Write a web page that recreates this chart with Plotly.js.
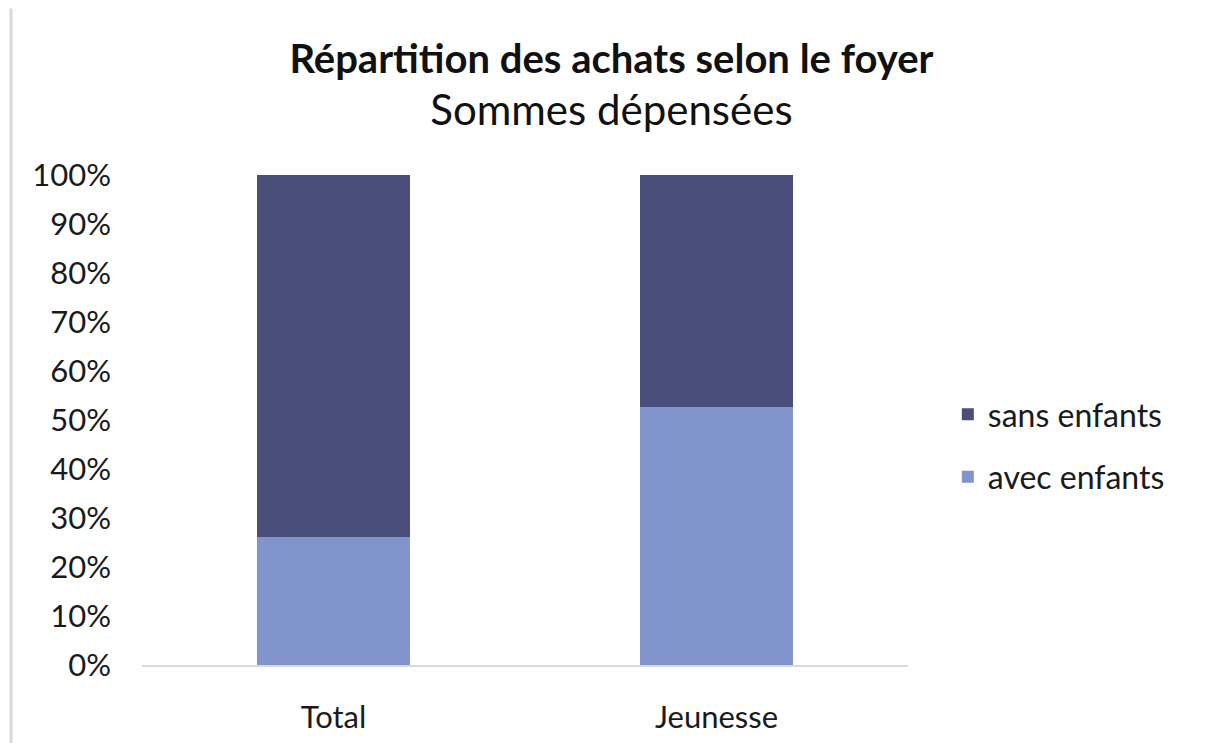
<!DOCTYPE html>
<html>
<head>
<meta charset="utf-8">
<script src="https://cdn.plot.ly/plotly-3.0.1.min.js"></script>
<style>
  body { margin: 0; background: #fff; }
  #chart { width: 1206px; height: 743px; }
</style>
</head>
<body>
<div id="chart"></div>
<script>
// Données
const categories = ["Total", "Jeunesse"];
const avecEnfants = [0.262, 0.526];
const sansEnfants = [0.738, 0.474];

const police = "Lato, 'Open Sans', sans-serif";

const data = [
    {
        x: categories,
        y: avecEnfants,
        name: 'avec enfants',
        type: 'bar',
        width: 0.4,
        legendgroup: 'a',
        legendrank: 2,
        marker: { color: '#8294cc' },
        hoverinfo: 'none'
    },
    {
        x: categories,
        y: sansEnfants,
        name: 'sans enfants',
        type: 'bar',
        width: 0.4,
        legendgroup: 'b',
        legendrank: 1,
        marker: { color: '#4a4e7b' },
        hoverinfo: 'none'
    }
];

const layout = {
    barmode: 'stack',
    width: 1206,
    height: 743,
    margin: { l: 142, r: 298, t: 175, b: 78 },
    paper_bgcolor: '#fff',
    plot_bgcolor: '#fff',
    font: { family: police, color: '#1a1a1a', size: 31 },
    title: {
        text: '<b>Répartition des achats selon le foyer</b><br><span style="font-size:42px">Sommes dépensées</span>',
        x: 0.507,
        xanchor: 'center',
        y: 0.902,
        yanchor: 'top',
        font: { family: police, size: 40, color: '#111' }
    },
    xaxis: {
        showgrid: false,
        showline: true,
        linecolor: '#d9d9d9',
        linewidth: 2,
        ticks: '',
        ticklabelstandoff: 24,
        tickfont: { size: 31 }
    },
    yaxis: {
        range: [0, 1],
        tickformat: '.0%',
        dtick: 0.1,
        showgrid: false,
        zeroline: false,
        showline: false,
        ticks: '',
        ticklabelstandoff: 30,
        tickfont: { size: 31 }
    },
    legend: {
        x: 1.052,
        xanchor: 'left',
        y: 0.447,
        yanchor: 'middle',
        traceorder: 'grouped',
        tracegroupgap: 18,
        font: { size: 32 },
        itemwidth: 30
    },
    shapes: [{
        type: 'line',
        xref: 'paper',
        yref: 'paper',
        x0: -0.171, x1: -0.171,
        y0: 1.34, y1: -0.16,
        line: { color: '#d9d9d9', width: 3 }
    }]
};

Plotly.newPlot('chart', data, layout, { displayModeBar: false, staticPlot: true });
</script>
</body>
</html>
